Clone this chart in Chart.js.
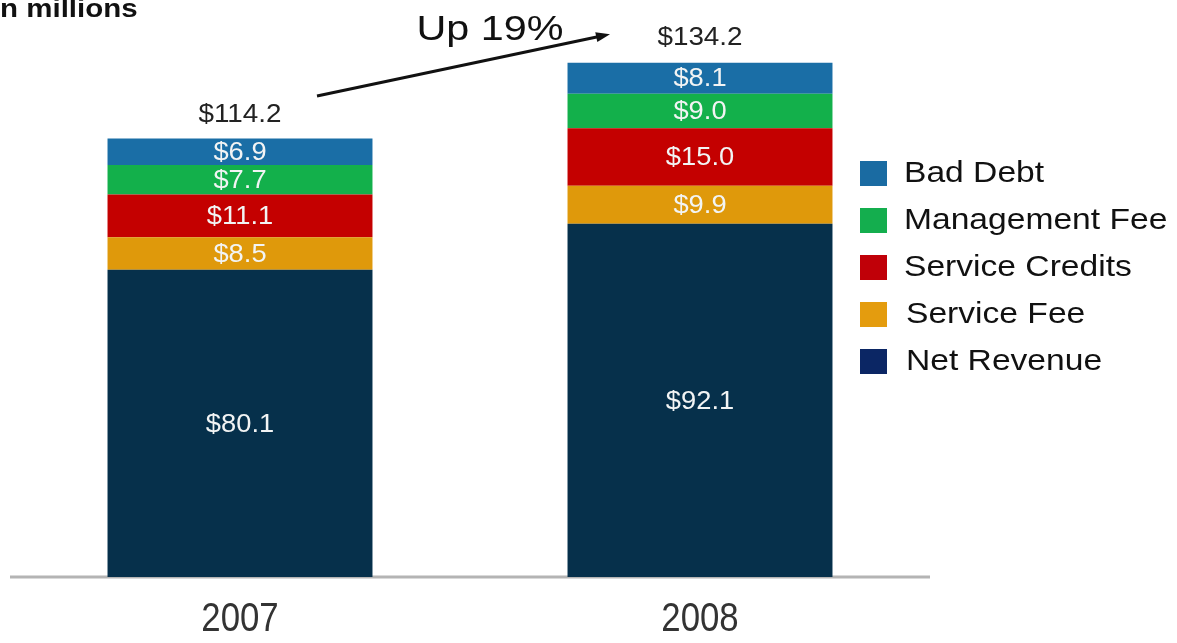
<!DOCTYPE html>
<html>
<head>
<meta charset="utf-8">
<script src="https://cdn.jsdelivr.net/npm/chart.js@4"></script>
<style>
  html, body { margin: 0; padding: 0; background: #fff; }
  #wrap { position: relative; width: 1177px; height: 643px; overflow: hidden; }
  #unit { position: absolute; left: 0; top: -6px; font: bold 25px "Liberation Sans", Arial, sans-serif; color: #111;
          transform: scaleX(1.18); transform-origin: 0 0; white-space: nowrap; }
</style>
</head>
<body>
<div id="wrap">
  <canvas id="revChart" width="1177" height="643"></canvas>
  <div id="unit">n millions</div>
</div>
<script>
// Revenue build-up, $ millions
const years = ['2007', '2008'];
const netRevenue = [80.1, 92.1];
const serviceFee = [8.5, 9.9];
const serviceCredits = [11.1, 15.0];
const managementFee = [7.7, 9.0];
const badDebt = [6.9, 8.1];
const totals = [114.2, 134.2];
const growthLabel = 'Up 19%';

const FONT = '"Liberation Sans", Arial, sans-serif';

// bottom to top in the stack
const series = [
    { label: 'Net Revenue', data: netRevenue, color: '#06304b', key: '#0b2664' },
    { label: 'Service Fee', data: serviceFee, color: '#df990b', key: '#e49c0e' },
    { label: 'Service Credits', data: serviceCredits, color: '#c40000', key: '#c00008' },
    { label: 'Management Fee', data: managementFee, color: '#13b04b', key: '#14ae4e' },
    { label: 'Bad Debt', data: badDebt, color: '#1a6ea6', key: '#1a6ba2' }
];

// text with a horizontal stretch
function wideText(ctx, text, x, y, sx) {
    ctx.save();
    ctx.translate(x, y);
    ctx.scale(sx, 1);
    ctx.fillText(text, 0, 0);
    ctx.restore();
}

// baseline rule and year labels
const axisPlugin = {
    id: 'yearAxis',
    beforeDatasetsDraw(chart) {
        const ctx = chart.ctx;
        const area = chart.chartArea;
        const x = chart.scales.x;
        ctx.save();
        ctx.strokeStyle = '#b4b4b4';
        ctx.lineWidth = 3;
        ctx.beginPath();
        ctx.moveTo(area.left, area.bottom);
        ctx.lineTo(area.right, area.bottom);
        ctx.stroke();
        ctx.fillStyle = '#333';
        ctx.font = '40px ' + FONT;
        ctx.textAlign = 'center';
        ctx.textBaseline = 'middle';
        years.forEach(function(yr, i) {
            wideText(ctx, yr, x.getPixelForValue(i), area.bottom + 43, 0.87);
        });
        ctx.restore();
    }
};

// values inside each segment, totals, growth arrow and legend
const labelPlugin = {
    id: 'barLabels',
    afterDatasetsDraw(chart) {
        const ctx = chart.ctx;
        ctx.save();
        ctx.textAlign = 'center';
        ctx.textBaseline = 'middle';
        ctx.font = '26px ' + FONT;
        chart.data.datasets.forEach(function(ds, di) {
            chart.getDatasetMeta(di).data.forEach(function(bar, i) {
                const mid = (bar.y + bar.base) / 2;
                ctx.fillStyle = '#f2f4f4';
                wideText(ctx, '$' + ds.data[i].toFixed(1), bar.x, mid + 1, 1.05);
            });
        });
        const y = chart.scales.y;
        const top = chart.getDatasetMeta(chart.data.datasets.length - 1).data;
        ctx.fillStyle = '#222';
        top.forEach(function(bar, i) {
            wideText(ctx, '$' + totals[i].toFixed(1), bar.x, y.getPixelForValue(totals[i]) - 24, 1.07);
        });

        // growth arrow between the two totals
        const x0 = top[0].x + 77, y0 = y.getPixelForValue(totals[0]) - 43;
        const x1 = top[1].x - 90, y1 = y.getPixelForValue(totals[1]) - 28;
        const ang = Math.atan2(y1 - y0, x1 - x0);
        ctx.strokeStyle = '#111';
        ctx.fillStyle = '#111';
        ctx.lineWidth = 3;
        ctx.beginPath();
        ctx.moveTo(x0, y0);
        ctx.lineTo(x1 - 10 * Math.cos(ang), y1 - 10 * Math.sin(ang));
        ctx.stroke();
        ctx.beginPath();
        ctx.moveTo(x1, y1);
        ctx.lineTo(x1 - 14 * Math.cos(ang) + 5 * Math.sin(ang), y1 - 14 * Math.sin(ang) - 5 * Math.cos(ang));
        ctx.lineTo(x1 - 14 * Math.cos(ang) - 5 * Math.sin(ang), y1 - 14 * Math.sin(ang) + 5 * Math.cos(ang));
        ctx.closePath();
        ctx.fill();
        ctx.textBaseline = 'alphabetic';
        ctx.font = '35px ' + FONT;
        wideText(ctx, growthLabel, (top[0].x + top[1].x) / 2 + 20, 40, 1.18);

        // legend, top series first
        ctx.textAlign = 'left';
        ctx.textBaseline = 'middle';
        ctx.font = '30px ' + FONT;
        const rows = series.slice().reverse();
        rows.forEach(function(s, k) {
            const cy = 173 + k * 47;
            ctx.fillStyle = s.key;
            ctx.fillRect(860, cy - 12, 27, 25);
            ctx.fillStyle = '#111';
            wideText(ctx, s.label, k === 3 || k === 4 ? 906 : 904, cy + 1, 1.12);
        });
        ctx.restore();
    }
};

new Chart(document.getElementById('revChart'), {
    type: 'bar',
    data: {
        labels: years,
        datasets: series.map(function(s) {
            return {
                label: s.label,
                data: s.data,
                backgroundColor: s.color,
                borderWidth: 0,
                categoryPercentage: 1,
                barPercentage: 0.576
            };
        })
    },
    options: {
        responsive: false,
        animation: false,
        layout: { padding: { left: 10, right: 247, top: 40, bottom: 66 } },
        plugins: {
            legend: { display: false },
            tooltip: { enabled: false }
        },
        scales: {
            x: { stacked: true, display: false },
            y: { stacked: true, display: false, min: 0, max: 140 }
        }
    },
    plugins: [axisPlugin, labelPlugin]
});
</script>
</body>
</html>
